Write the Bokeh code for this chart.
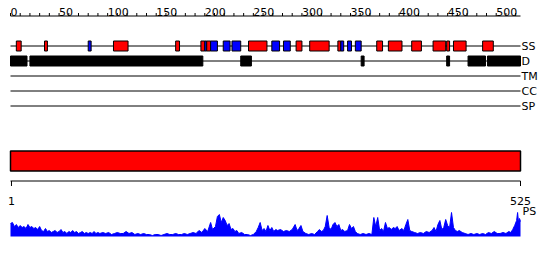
from bokeh.plotting import figure
from bokeh.models import Range1d, ColumnDataSource
from bokeh.embed import file_html
from bokeh.resources import INLINE
from bokeh.core.properties import value

# ---------------- data ----------------
seq_len = 525
track_names = ["SS", "D", "TM", "CC", "SP"]

# secondary structure elements (H = helix, red ; E = strand, blue)
ss_start = [6, 35, 80, 106, 170, 196, 200, 202, 206, 219, 228, 245, 269, 281, 294,
            308, 337, 340, 347, 355, 377, 389, 413, 435, 449, 456, 486]
ss_end = [11, 38, 83, 121, 174, 200, 202, 206, 213, 226, 237, 264, 277, 288, 300,
          328, 340, 343, 351, 361, 383, 403, 423, 448, 452, 469, 497]
ss_type = ["H", "H", "E", "H", "H", "H", "E", "H", "E", "E", "E", "H", "E", "E", "H",
           "H", "H", "E", "E", "E", "H", "H", "H", "H", "H", "H", "H"]

# disordered regions
dis_start = [0, 20, 237, 361, 449, 471, 491]
dis_end = [17, 198, 248, 364, 452, 489, 525]

# domain bar
dom_start = [0]
dom_end = [525]

# top ruler
ruler_major = [0, 50, 100, 150, 200, 250, 300, 350, 400, 450, 500]
ruler_minor = list(range(0, 521, 10))
# bottom ruler
seq_ticks = [1, 525]

# PS profile (position, score)
ps_pos = [0, 2, 4, 6, 8, 10, 12, 14, 16, 18, 20, 22, 24, 26, 28, 30, 32, 34, 36, 38,
          40, 42, 44, 46, 48, 50, 52, 54, 56, 58, 60, 62, 64, 66, 68, 70, 72, 74, 76, 78,
          80, 82, 84, 86, 88, 90, 92, 95, 98, 101, 104, 107, 110, 113, 116, 119, 122, 125,
          128, 131, 134, 137, 140, 143, 146, 149, 152, 155, 158, 161, 164, 167, 170, 173,
          176, 179, 182, 185, 188, 191, 194, 197, 200, 203, 206, 208, 211, 213, 215, 217,
          219, 221, 223, 225, 227, 229, 231, 233, 235, 238, 241, 244, 247, 250, 253, 255,
          257, 259, 261, 263, 265, 267, 269, 271, 273, 275, 278, 281, 284, 287, 290, 293,
          295, 297, 299, 301, 304, 307, 310, 313, 316, 318, 320, 322, 324, 326, 328, 330,
          332, 334, 336, 338, 340, 342, 344, 347, 349, 351, 353, 355, 357, 360, 363, 366,
          369, 372, 374, 376, 378, 380, 382, 384, 386, 388, 390, 392, 394, 396, 398, 400,
          403, 405, 407, 409, 411, 413, 416, 419, 422, 425, 428, 431, 434, 436, 438, 440,
          442, 444, 446, 448, 450, 452, 454, 456, 458, 460, 462, 465, 468, 471, 474, 477,
          480, 483, 486, 489, 492, 495, 498, 501, 504, 507, 510, 513, 515, 517, 519, 521,
          522, 523, 524, 525]
ps_val = [13, 14, 10, 12, 9, 11, 9, 10, 8, 12, 9, 10, 8, 9, 7, 10, 6, 5, 8, 5,
          6, 4, 5, 6, 4, 5, 7, 4, 5, 3, 5, 4, 6, 4, 5, 3, 4, 5, 3, 4,
          3, 4, 3, 5, 3, 4, 3, 4, 3, 4, 2, 3, 4, 3, 3, 5, 3, 4,
          2, 3, 2, 3, 2, 2, 1, 2, 2, 1, 2, 3, 2, 2, 3, 2,
          2, 3, 2, 3, 4, 3, 6, 4, 8, 5, 14, 7, 10, 20, 22, 14,
          19, 16, 11, 13, 7, 8, 5, 6, 3, 4, 2, 2, 1, 2, 5, 9,
          14, 6, 8, 5, 11, 6, 9, 5, 7, 6, 7, 5, 6, 5, 7, 12,
          6, 8, 11, 5, 3, 2, 3, 2, 5, 7, 5, 6, 10, 21, 9, 7,
          12, 14, 10, 12, 6, 7, 5, 6, 12, 8, 10, 5, 3, 2, 3, 2,
          3, 2, 19, 10, 19, 6, 8, 5, 14, 8, 9, 7, 9, 8, 10, 6,
          8, 6, 12, 17, 6, 5, 4, 3, 4, 3, 5, 4, 6, 9, 5, 12,
          16, 7, 9, 17, 11, 9, 24, 9, 6, 5, 6, 4, 3, 2, 3, 2,
          3, 2, 3, 2, 4, 3, 5, 3, 3, 4, 3, 5, 4, 7, 11, 16,
          24, 14, 18, 15]

# ---------------- layout ----------------
W, H = 550, 260
LEFT = 10
k = 510 / seq_len  # pixels per residue
track_y = [45.5, 60.5, 75.5, 90.5, 105.5]
FONT = value("DejaVu Sans")

p = figure(width=W, height=H, output_backend="svg", toolbar_location=None,
           x_range=Range1d(-LEFT / k, (W - LEFT) / k), y_range=Range1d(H, 0),
           x_axis_type=None, y_axis_type=None, min_border=0)
p.outline_line_color = None
p.background_fill_color = "white"
p.border_fill_color = "white"
# PS profile range: baseline at 236 px from top, 1 unit = 1 px
base_from_bottom = H - 236
p.extra_y_ranges = {"ps": Range1d(-base_from_bottom, H - base_from_bottom)}

# top ruler
p.segment(x0=[ruler_minor[0]], x1=[ruler_minor[-1] + 5], y0=[15.5], y1=[15.5],
          line_color="black", line_width=1)
p.segment(x0=ruler_minor, x1=ruler_minor, y0=[15.5] * len(ruler_minor),
          y1=[12.5] * len(ruler_minor), line_color="black", line_width=1)
p.text(x=ruler_major, y=[11.5] * len(ruler_major), text=[str(v) for v in ruler_major],
       text_font=FONT, text_font_size="11px", text_align="left",
       text_baseline="alphabetic", text_color="black")

# track lines and labels
p.segment(x0=[0] * len(track_y), x1=[seq_len] * len(track_y), y0=track_y, y1=track_y,
          line_color="black", line_width=1)
p.text(x=[seq_len] * len(track_names), y=track_y, text=track_names, x_offset=1,
       text_font=FONT, text_font_size="11px", text_align="left",
       text_baseline="middle", text_color="black")

# SS boxes
ss_color = ["#ff0000" if t == "H" else "#0000ff" for t in ss_type]
ss_src = ColumnDataSource(dict(left=ss_start, right=ss_end, color=ss_color))
p.quad(left="left", right="right", top=40.5, bottom=50.5, fill_color="color",
       line_color="black", line_width=1, source=ss_src)

# disorder boxes
p.quad(left=dis_start, right=dis_end, top=55.5, bottom=65.5, fill_color="black",
       line_color="black", line_width=1)

# domain bar
p.quad(left=dom_start, right=dom_end, top=150.5, bottom=170.5, fill_color="#ff0000",
       line_color="black", line_width=1.5)

# bottom ruler
p.segment(x0=[seq_ticks[0] - 1], x1=[seq_ticks[-1]], y0=[180.5], y1=[180.5],
          line_color="black", line_width=1)
p.segment(x0=seq_ticks, x1=seq_ticks, y0=[180.5] * 2, y1=[185.5] * 2,
          line_color="black", line_width=1)
p.text(x=seq_ticks, y=[200] * 2, text=[str(v) for v in seq_ticks],
       text_font=FONT, text_font_size="11px", text_align="center",
       text_baseline="alphabetic", text_color="black")

# PS profile
p.varea(x=ps_pos, y1=[0] * len(ps_pos), y2=ps_val, fill_color="#0000ff",
        y_range_name="ps")
p.line(x=ps_pos, y=ps_val, line_color="#0000ff", line_width=1, y_range_name="ps")
p.text(x=[seq_len], y=[210.5], text=["PS"], x_offset=2,
       text_font=FONT, text_font_size="11px", text_align="left",
       text_baseline="middle", text_color="black")

open("out.html", "w").write(file_html(p, INLINE))
